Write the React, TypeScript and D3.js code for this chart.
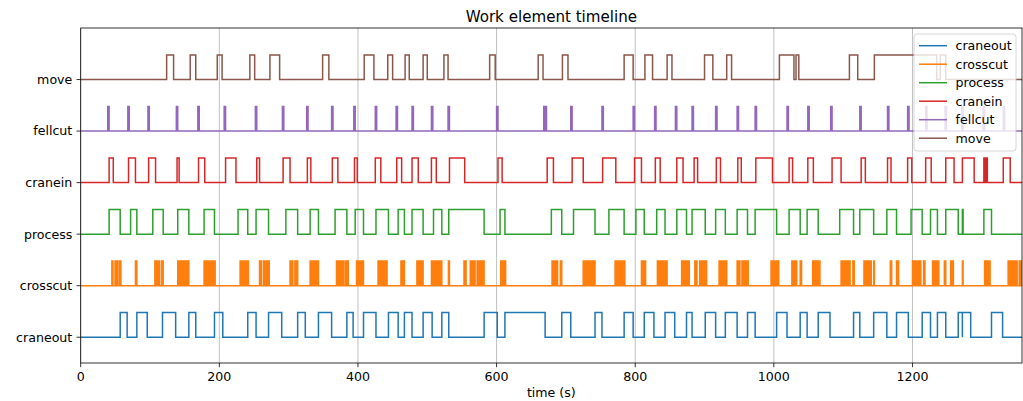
import React from 'react';
import * as d3 from 'd3';

const W = 1023;
const H = 401;
const PLOT = { left: 80.7, right: 1022, top: 28, bottom: 363 };

const ROW_NAMES = ['craneout', 'crosscut', 'process', 'cranein', 'fellcut', 'move'];
const ROW_COLORS = ['#1f77b4', '#ff7f0e', '#2ca02c', '#d62728', '#9467bd', '#8c564b'];
const X_TICKS = [0, 200, 400, 600, 800, 1000, 1200];
const X_DOMAIN: [number, number] = [0, 1358];
const Y_DOMAIN: [number, number] = [-0.5, 6];
const PULSE = 0.478;

type Iv = [number, number];

const craneout: Iv[] = [
  [57, 67], [81, 96], [118, 137], [156, 166], [193, 205], [241, 253], [271, 290], [313, 324],
  [343, 362], [384, 393], [408, 426], [444, 458], [467, 478], [494, 507], [521, 531], [582, 601],
  [612, 670], [694, 707], [742, 752], [784, 797], [813, 827], [843, 857], [874, 882], [901, 916],
  [930, 947], [962, 973], [1004, 1019], [1038, 1048], [1064, 1081], [1115, 1124], [1144, 1163],
  [1177, 1194], [1214, 1226], [1236, 1248], [1266, 1272], [1272, 1284], [1314, 1330],
];

const crosscut: Iv[] = [
  [45, 46.5], [49.5, 51], [52, 53.5], [56, 58],
  [79, 81],
  [107, 108.5], [110, 111.5], [112.5, 114], [117, 119],
  [140, 141.5], [142.5, 144], [145, 146.5], [147.5, 149], [150, 151.5], [152.5, 154], [154.5, 156],
  [178, 179.5], [180.5, 182], [183, 184.5], [185.5, 187], [188, 189.5], [190.5, 192], [192.5, 194],
  [230, 231.5], [232.5, 234], [235, 236.5], [237.5, 239], [240, 242],
  [258, 259.5], [260, 261], [264, 265.5], [266.5, 268], [269, 270.5], [271, 272],
  [302, 303], [304.5, 306], [309, 310.5], [311.5, 313],
  [331, 332.5], [334, 335], [337, 338], [339, 340], [341, 343],
  [369, 370.5], [371.5, 373], [374, 375.5], [376.5, 378], [378.5, 379.5],
  [382, 383.5], [384.5, 386],
  [398, 399.5], [401, 402], [403.5, 405], [406, 408],
  [429, 430.5], [431.5, 433], [434, 435.5], [436.5, 438], [439, 440], [441, 442],
  [462, 463.5], [465, 467],
  [485, 486.5], [488, 489], [490.5, 492], [493, 494],
  [506, 507.5], [508.5, 510], [511, 512.5], [513.5, 515], [516, 517.5], [518.5, 519.5], [520, 521],
  [530.5, 532],
  [553, 554], [555, 556],
  [562, 563.5], [565, 566.5], [567.5, 569],
  [572, 573.5], [575, 576], [577, 578.5], [579.5, 580.5], [581, 582],
  [606, 607.5], [608.5, 610], [611, 613],
  [680, 681.5], [682.5, 684], [685, 686.5], [687, 688], [692, 694],
  [725, 726.5], [727.5, 729], [730, 731.5], [732.5, 734], [735, 736.5], [737.5, 739], [740, 742],
  [771, 772.5], [773.5, 775], [776, 777.5], [778.5, 780], [781, 782.5], [783.5, 785],
  [809, 810.5], [812, 813], [814, 815],
  [832, 833.5], [834.5, 836], [837, 838.5], [839.5, 841], [842, 843.5], [844.5, 846],
  [867, 868.5], [869.5, 871], [872, 873.5], [874.5, 876], [876.5, 878],
  [886, 887], [888, 889], [893, 894.5], [895.5, 897], [898, 899.5], [900.5, 902], [902.5, 903],
  [921, 922.5], [923.5, 925], [926, 927.5], [928.5, 930], [930.5, 932],
  [947, 948], [949.5, 951], [954, 955.5], [956.5, 958], [959, 960.5], [961.5, 963],
  [996, 997.5], [998.5, 1000], [1001, 1002.5], [1003.5, 1005], [1005.5, 1007],
  [1026, 1027.5], [1028.5, 1030], [1031, 1033], [1038, 1040],
  [1056, 1057.5], [1058.5, 1060], [1061, 1062.5], [1063.5, 1065], [1065.5, 1066.5],
  [1097, 1098.5], [1099.5, 1101], [1102, 1103.5], [1104.5, 1106], [1107, 1108.5], [1109, 1110],
  [1114, 1116],
  [1130, 1131.5], [1132.5, 1134], [1135, 1136.5], [1137.5, 1139], [1139.5, 1140.5], [1144, 1145],
  [1168, 1170], [1177, 1178], [1179, 1180],
  [1200, 1201.5], [1202.5, 1204], [1205, 1206.5], [1207.5, 1209], [1210, 1212],
  [1216, 1218],
  [1229, 1230.5], [1231.5, 1233], [1234, 1235.5], [1236.5, 1238],
  [1246, 1248], [1255, 1256], [1257.5, 1259],
  [1272, 1273],
  [1304, 1305.5], [1306.5, 1308], [1309, 1310.5], [1311, 1312],
  [1338, 1339], [1341, 1342], [1343.5, 1344.5], [1346, 1347], [1348, 1349], [1350, 1351], [1354, 1355], [1356.5, 1358],
];

const processIv: Iv[] = [
  [41, 57], [72, 81], [104, 119], [140, 156], [178, 193], [227, 241], [253, 271], [296, 313],
  [331, 343], [367, 384], [396, 408], [426, 444], [458, 467], [478, 494], [509, 521], [531, 582],
  [605, 612], [679, 694], [711, 742], [762, 784], [801, 813], [831, 843], [860, 874], [882, 901],
  [916, 930], [947, 962], [973, 1004], [1022, 1038], [1048, 1064], [1095, 1115], [1124, 1144],
  [1163, 1177], [1198, 1214], [1226, 1236], [1248, 1266], [1272, 1273], [1303, 1314],
];

const cranein: Iv[] = [
  [41, 47], [69, 79], [98, 108], [139, 142], [170, 179], [209, 224], [254, 258], [292, 302],
  [327, 332], [363, 371], [395, 399], [425, 433], [456, 463], [478, 487], [506, 513], [532, 554],
  [602, 608], [673, 682], [709, 725], [753, 772], [799, 809], [829, 836], [860, 869], [885, 890],
  [917, 923], [948, 953], [974, 998], [1022, 1027], [1049, 1057], [1084, 1097], [1126, 1132],
  [1164, 1169], [1193, 1199], [1219, 1227], [1248, 1260], [1272, 1289], [1303, 1305], [1306, 1308],
  [1331, 1341],
];

const fellcut: Iv[] = [
  [39, 41], [68, 70], [97, 99], [138, 140], [169, 171], [207, 209], [252, 254], [291, 293],
  [326, 328], [362, 364], [394, 396], [425, 427], [455, 457], [478, 480], [506, 508], [530, 532],
  [600, 602], [668, 669], [671, 672], [707, 709], [752, 754], [797, 799], [828, 830], [858, 860],
  [882, 884], [916, 918], [947, 949], [973, 975], [1019, 1021], [1049, 1051], [1082, 1084],
  [1124, 1126], [1164, 1166], [1193, 1195], [1219, 1221], [1247, 1249], [1271, 1273], [1302, 1304],
  [1331, 1333],
];

const move: Iv[] = [
  [124, 134], [158, 166], [197, 204], [244, 251], [273, 287], [349, 358], [409, 423], [443, 450],
  [468, 474], [494, 500], [524, 530], [590, 598], [660, 667], [695, 703], [784, 797], [814, 825],
  [846, 853], [900, 912], [932, 939], [1008, 1029], [1032, 1036], [1109, 1121], [1145, 1235],
  [1240, 1248],
];

const SERIES: Iv[][] = [craneout, crosscut, processIv, cranein, fellcut, move];

const FONT = 'DejaVu Sans, Verdana, sans-serif';
const FS = 12.6;
const TITLE_FS = 15.1;

export default function App() {
  const x = d3.scaleLinear().domain(X_DOMAIN).range([PLOT.left, PLOT.right]);
  const y = d3.scaleLinear().domain(Y_DOMAIN).range([PLOT.bottom, PLOT.top]);
  const line = d3
    .line<[number, number]>()
    .x((d) => x(d[0]))
    .y((d) => y(d[1]));

  const stepPoints = (ivs: Iv[], row: number): [number, number][] => {
    const pts: [number, number][] = [[X_DOMAIN[0], row]];
    for (const [a, b] of ivs) {
      pts.push([a, row], [a, row + PULSE], [b, row + PULSE], [b, row]);
    }
    pts.push([X_DOMAIN[1], row]);
    return pts;
  };

  const legendX = 914;
  const legendY = 34;
  const legendW = 102;
  const legendH = 117;
  const legendRow = 18.5;

  return (
    <svg
      width={W}
      height={H}
      style={{ position: 'absolute', left: 0, top: 0, background: '#fff' }}
      fontFamily={FONT}
    >
      <rect x={0} y={0} width={W} height={H} fill="#fff" />
      <defs>
        <clipPath id="plotclip">
          <rect x={PLOT.left} y={PLOT.top} width={PLOT.right - PLOT.left} height={PLOT.bottom - PLOT.top} />
        </clipPath>
      </defs>
      {X_TICKS.map((t) => (
        <line key={'g' + t} x1={x(t)} x2={x(t)} y1={PLOT.top} y2={PLOT.bottom} stroke="#b0b0b0" strokeWidth={0.8} />
      ))}
      <g clipPath="url(#plotclip)">
        {SERIES.map((ivs, i) => (
          <path
            key={ROW_NAMES[i]}
            d={line(stepPoints(ivs, i)) || ''}
            fill="none"
            stroke={ROW_COLORS[i]}
            strokeWidth={1.5}
            strokeLinejoin="miter"
            strokeLinecap="butt"
          />
        ))}
      </g>
      <rect
        x={PLOT.left}
        y={PLOT.top}
        width={PLOT.right - PLOT.left}
        height={PLOT.bottom - PLOT.top}
        fill="none"
        stroke="#000"
        strokeWidth={0.8}
      />
      {X_TICKS.map((t) => (
        <g key={'xt' + t}>
          <line x1={x(t)} x2={x(t)} y1={PLOT.bottom} y2={PLOT.bottom + 4.2} stroke="#000" strokeWidth={0.8} />
          <text x={x(t)} y={380.5} textAnchor="middle" fontSize={FS} fill="#000">
            {t}
          </text>
        </g>
      ))}
      {ROW_NAMES.map((name, i) => (
        <g key={'yt' + name}>
          <line x1={PLOT.left - 4.2} x2={PLOT.left} y1={y(i)} y2={y(i)} stroke="#000" strokeWidth={0.8} />
          <text x={PLOT.left - 8.4} y={y(i)} dy="0.35em" textAnchor="end" fontSize={FS} fill="#000">
            {name}
          </text>
        </g>
      ))}
      <text x={(PLOT.left + PLOT.right) / 2} y={396.5} textAnchor="middle" fontSize={FS} fill="#000">
        time (s)
      </text>
      <text x={(PLOT.left + PLOT.right) / 2} y={21.5} textAnchor="middle" fontSize={TITLE_FS} fill="#000">
        Work element timeline
      </text>
      <rect
        x={legendX}
        y={legendY}
        width={legendW}
        height={legendH}
        rx={3}
        ry={3}
        fill="#fff"
        fillOpacity={0.8}
        stroke="#cccccc"
        strokeWidth={0.8}
      />
      {ROW_NAMES.map((name, i) => {
        const ly = legendY + 11.7 + i * legendRow;
        return (
          <g key={'lg' + name}>
            <line x1={legendX + 5} x2={legendX + 33} y1={ly} y2={ly} stroke={ROW_COLORS[i]} strokeWidth={1.5} />
            <text x={legendX + 41.5} y={ly} dy="0.35em" fontSize={FS} fill="#000">
              {name}
            </text>
          </g>
        );
      })}
    </svg>
  );
}
